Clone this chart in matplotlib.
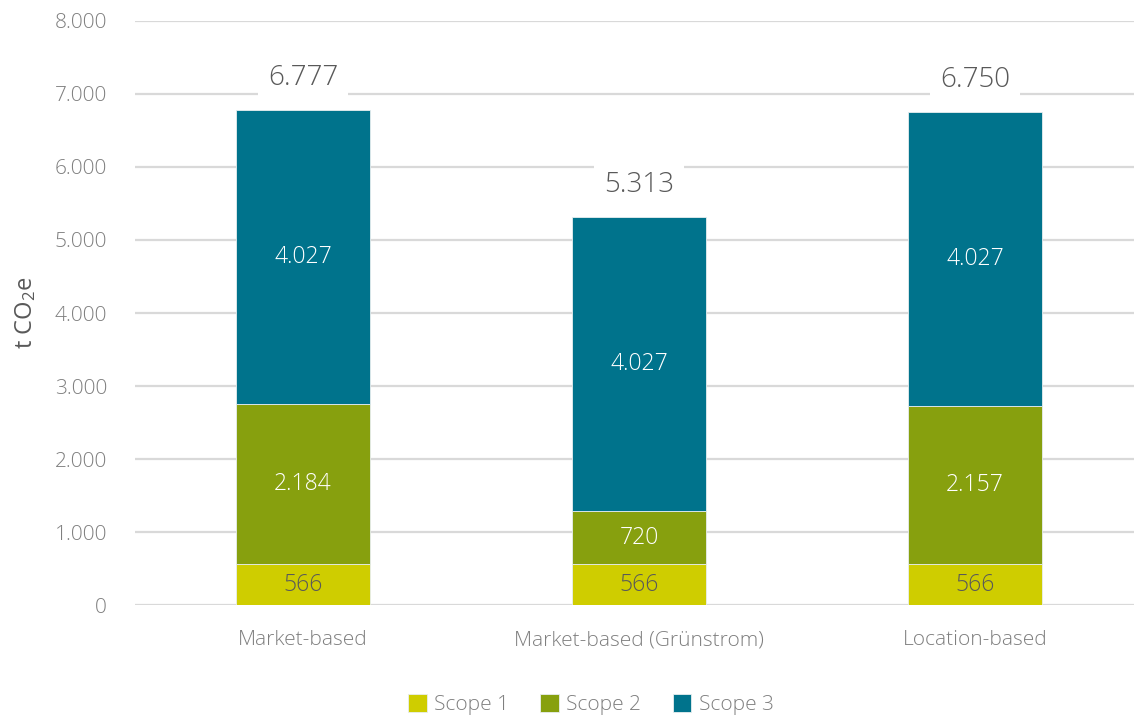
import numpy as np
import matplotlib.pyplot as plt

# Emissions per scope and accounting method [t CO2e]
categories = ['Market-based', 'Market-based (Grünstrom)', 'Location-based']
scope1 = [566, 566, 566]
scope2 = [2184, 720, 2157]
scope3 = [4027, 4027, 4027]
scope_names = ['Scope 1', 'Scope 2', 'Scope 3']
y_ticks = [0, 1000, 2000, 3000, 4000, 5000, 6000, 7000, 8000]

# Colours and text styles
colors = ['#cfcd00', '#87a00e', '#00738c']
label_colors = ['#595959', 'white', 'white']
grid_color = '#d9d9d9'
tick_color = '#7f7f7f'
plt.rcParams['font.family'] = ['Open Sans', 'DejaVu Sans']
plt.rcParams['font.weight'] = 'light'
plt.rcParams['mathtext.default'] = 'regular'


def fmt(v):
    # German thousands separator
    return f'{v:,}'.replace(',', '.')


fig = plt.figure(figsize=(11.34, 7.18), dpi=100)
ax = fig.add_axes([0.119, 0.1567, 0.889, 0.8145])

x = np.arange(len(categories))
width = 0.4
bottom = np.zeros(len(categories))
for values, name, color, lcolor in zip([scope1, scope2, scope3], scope_names, colors, label_colors):
    values = np.array(values, dtype=float)
    ax.bar(x, values, width, bottom=bottom, color=color, label=name,
           edgecolor='#e8eef0', linewidth=0.6, zorder=3)
    for xi, b, v in zip(x, bottom, values):
        ax.text(xi, b + v / 2, fmt(int(v)), ha='center', va='center',
                fontsize=16.5, color=lcolor, zorder=4)
    bottom += values

# Totals above each stack, on a white box that hides the grid
for xi, total in zip(x, bottom):
    ax.annotate(fmt(int(total)), (xi, total), xytext=(0, 23), textcoords='offset points',
                ha='center', va='center', fontsize=20, color='#595959', zorder=5,
                bbox=dict(boxstyle='square,pad=0.35', facecolor='white', edgecolor='none'))

ax.set_xlim(-0.5, 2.5)
ax.set_ylim(0, 8000)
ax.set_yticks(y_ticks)
ax.set_yticklabels([fmt(t) for t in y_ticks])
ax.set_xticks(x)
ax.set_xticklabels(categories)
ax.tick_params(axis='both', length=0, labelsize=15, colors=tick_color)
ax.tick_params(axis='x', pad=18, labelsize=15)
ax.tick_params(axis='y', pad=20)
ax.yaxis.grid(True, color=grid_color, linewidth=1.6, zorder=0)
for spine in ax.spines.values():
    spine.set_visible(False)
ax.set_axisbelow(True)
ax.set_ylabel('t CO$_2$e', fontsize=17, color='#595959', labelpad=12)

fig.legend(loc='lower center', bbox_to_anchor=(0.521, -0.022), ncol=3, frameon=False,
           fontsize=15, handlelength=0.9, handleheight=0.9, handletextpad=0.35,
           columnspacing=1.5, labelcolor=tick_color)

fig.savefig('out.png', dpi=100)
